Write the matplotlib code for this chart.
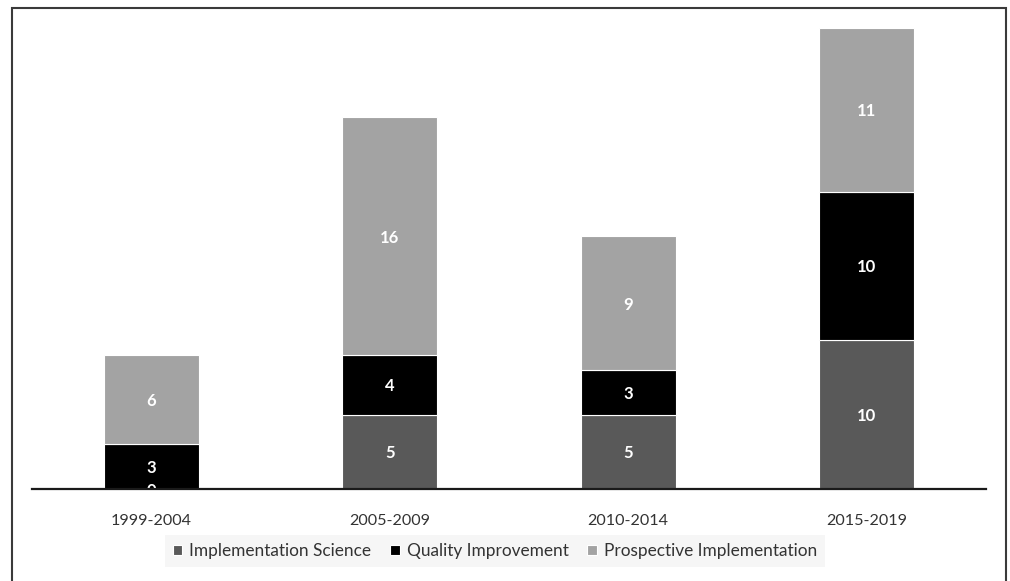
import matplotlib
matplotlib.use("Agg")
import matplotlib.pyplot as plt
from matplotlib.patches import Rectangle
import numpy as np

periods = ["1999-2004", "2005-2009", "2010-2014", "2015-2019"]
impl_science = [0, 5, 5, 10]
quality_impr = [3, 4, 3, 10]
prospective = [6, 16, 9, 11]

series = [
    ("Implementation Science", impl_science, "#595959"),
    ("Quality Improvement", quality_impr, "#000000"),
    ("Prospective Implementation", prospective, "#a3a3a3"),
]

plt.rcParams['font.family'] = ['Lato', 'DejaVu Sans']

W, H = 1010, 581
fig = plt.figure(figsize=(W / 100, H / 100), dpi=100)
ax = fig.add_axes([32 / W, 1 - 489 / H, (986 - 32) / W, (489 - 8) / H])

x = np.arange(len(periods))
bottom = np.zeros(len(periods))
for name, vals, col in series:
    vals = np.array(vals, dtype=float)
    ax.bar(x, vals, 0.4, bottom=bottom, color=col, edgecolor="white",
           linewidth=0.8, label=name, zorder=2)
    for xi, b, v in zip(x, bottom, vals):
        ax.text(xi, b + v / 2, f"{int(v)}", ha="center", va="center_baseline",
                color="white", fontsize=12, fontweight="bold", clip_on=True,
                zorder=3)
    bottom += vals

ax.set_xlim(-0.5, 3.5)
ax.set_ylim(0, 32.35)
ax.set_xticks(x)
ax.set_xticklabels(periods, fontsize=11.6, color="#333333")
ax.tick_params(axis="x", length=0, pad=18)
ax.set_yticks([])
for s in ["left", "right", "top"]:
    ax.spines[s].set_visible(False)
ax.spines["bottom"].set_linewidth(1.6)
ax.spines["bottom"].set_color("#1a1a1a")
ax.spines["bottom"].set_zorder(4)

leg = fig.legend(loc="center", bbox_to_anchor=(495 / W, 1 - 551 / H), ncol=3,
                 frameon=True, fontsize=12.4, handlelength=0.55, handleheight=0.55,
                 handletextpad=0.4, columnspacing=1.1, borderpad=0.45,
                 borderaxespad=0)
leg.get_frame().set_facecolor("#f4f4f4")
leg.get_frame().set_edgecolor("none")
leg.get_frame().set_boxstyle("square", pad=0)
for t in leg.get_texts():
    t.set_color("#333333")

fig.patches.append(Rectangle((12 / W, -0.1), (1006 - 12) / W, 1.1 - 8 / H,
                             transform=fig.transFigure, fill=False,
                             edgecolor="#3a3a3a", linewidth=1.5))

fig.savefig("out.png", dpi=100)
